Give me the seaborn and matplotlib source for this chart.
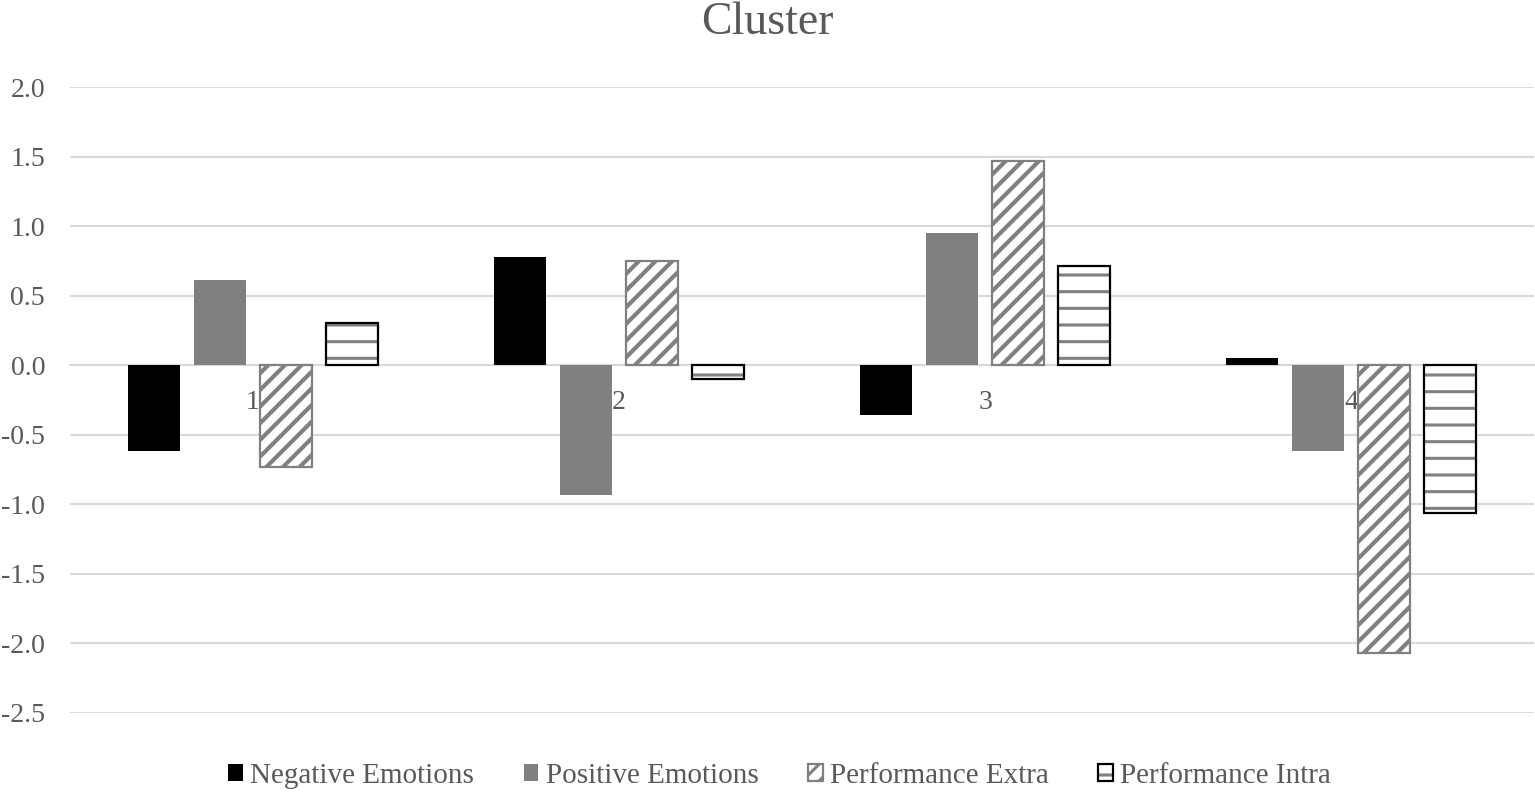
import numpy as np
import pandas as pd
import matplotlib
matplotlib.use('Agg')
import matplotlib.pyplot as plt
import matplotlib.colors as mcolors
import seaborn as sns
from matplotlib.patches import Patch
from matplotlib.ticker import FixedLocator, FuncFormatter

# data
clusters = ['1', '2', '3', '4']
series = ['Negative Emotions', 'Positive Emotions', 'Performance Extra', 'Performance Intra']
negative_emotions = [-0.62, 0.78, -0.36, 0.05]
positive_emotions = [0.61, -0.93, 0.95, -0.62]
performance_extra = [-0.73, 0.75, 1.47, -2.07]
performance_intra = [0.30, -0.10, 0.71, -1.06]
y_ticks = [2.0, 1.5, 1.0, 0.5, 0.0, -0.5, -1.0, -1.5, -2.0, -2.5]

df = pd.DataFrame({
    'Cluster': clusters * 4,
    'Series': np.repeat(series, len(clusters)),
    'Value': negative_emotions + positive_emotions + performance_extra + performance_intra,
})

sns.set_theme(style='white')
plt.rcParams['font.family'] = ['Liberation Serif', 'DejaVu Serif']
plt.rcParams['axes.unicode_minus'] = False
plt.rcParams['hatch.linewidth'] = 2.2

text_col = '#595959'
grid_col = '#d9d9d9'
fills = ['black', '#808080', 'white', 'white']
edges = ['black', '#808080', '#808080', 'black']
hatch_cols = ['black', '#808080', '#808080', '#808080']
hatches = ['', '', '//', '-']
hatch_lws = [1, 1, 3.0, 2.2]

fig = plt.figure(figsize=(15.35, 7.93), dpi=100)
ax = fig.add_axes([70 / 1535, 1 - 713 / 793, 1464 / 1535, (713 - 87) / 793])

sns.barplot(data=df, x='Cluster', y='Value', hue='Series', order=clusters,
            hue_order=series, palette=fills, saturation=1, width=0.72, gap=0.21,
            errorbar=None, legend=False, ax=ax, zorder=3)


def style_patch(p, fc, ec, hc, h, hlw):
    p.set_facecolor(fc)
    p.set_edgecolor(ec)
    p.set_linewidth(1.6 if h else 0)
    p.set_hatch(h)
    p._hatch_color = mcolors.to_rgba(hc)
    if hasattr(p, 'set_hatch_linewidth'):
        p.set_hatch_linewidth(hlw)
    else:
        p._hatch_linewidth = hlw


for cont, fc, ec, hc, h, hlw in zip(ax.containers, fills, edges, hatch_cols, hatches, hatch_lws):
    for p in cont:
        style_patch(p, fc, ec, hc, h, hlw)
        p.set_zorder(3)

ax.set_ylim(-2.5, 2.0)
ax.set_xlim(-0.5, 3.5)
ax.yaxis.set_major_locator(FixedLocator(y_ticks))
ax.yaxis.set_major_formatter(FuncFormatter(lambda v, pos: f'{v:.1f}'))
ax.grid(axis='y', color=grid_col, linewidth=1.5)
ax.set_axisbelow(True)
for s in ['top', 'right', 'left']:
    ax.spines[s].set_visible(False)
ax.spines['bottom'].set_position(('data', 0))
ax.spines['bottom'].set_color(grid_col)
ax.spines['bottom'].set_linewidth(1.5)
ax.tick_params(axis='x', length=0, pad=18, labelsize=20, labelcolor=text_col)
ax.tick_params(axis='y', length=0, pad=18, labelsize=20, labelcolor=text_col)
ax.set_xlabel('')
ax.set_ylabel('')

fig.suptitle('Cluster', y=1 - 23 / 793, va='center', fontsize=33, color=text_col)

handles = []
for fc, ec, hc, h, hlw in zip(fills, edges, hatch_cols, hatches, hatch_lws):
    hp = Patch()
    style_patch(hp, fc, ec, hc, h, hlw)
    handles.append(hp)
leg = fig.legend(handles, series, loc='center', bbox_to_anchor=(0.508, 1 - 776 / 793),
                 ncol=4, frameon=False, fontsize=21, handlelength=0.5, handleheight=0.5,
                 handletextpad=0.25, columnspacing=1.7)
for t in leg.get_texts():
    t.set_color(text_col)

fig.savefig('out.png', dpi=100)
